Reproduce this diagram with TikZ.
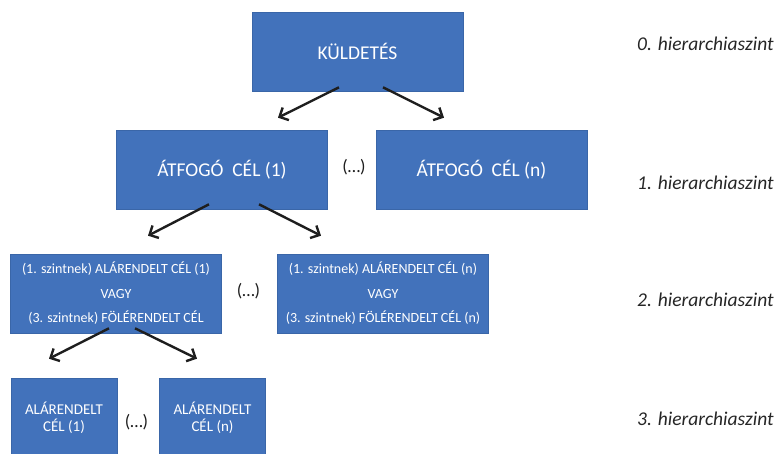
\documentclass[tikz,border=0pt]{standalone}
\usepackage{fontspec}
\setmainfont{Carlito}
\usetikzlibrary{arrows.meta}
\definecolor{boxblue}{RGB}{66,114,187}
\definecolor{boxedge}{RGB}{58,102,168}
\definecolor{inkdark}{RGB}{30,30,30}
\definecolor{labelgray}{RGB}{38,38,38}
\begin{document}
\begin{tikzpicture}[x=1pt,y=-1pt,
  goalbox/.style={fill=boxblue,draw=boxedge,line width=0.6pt,text=white,
    minimum width=211pt,minimum height=79pt,inner sep=0pt,align=center},
  bigtext/.style={font=\fontsize{19.5}{23}\selectfont},
  midtext/.style={font=\fontsize{14}{24.5}\selectfont},
  smallbox/.style={fill=boxblue,draw=boxedge,line width=0.6pt,text=white,
    minimum width=106pt,minimum height=79pt,inner sep=0pt,align=center,
    font=\fontsize{15}{17}\selectfont},
  dots/.style={text=inkdark,font=\fontsize{18}{20}\selectfont,inner sep=0pt},
  levellabel/.style={anchor=west,text=labelgray,inner sep=0pt,
    font=\fontsize{19.5}{22}\selectfont\itshape},
  arr/.style={draw=inkdark,line width=2.4pt,
    -{Straight Barb[length=7pt,width=14pt,line width=2.4pt]}}]

\useasboundingbox (0,0) rectangle (777,454);
\clip (0,0) rectangle (777,454);

% level 0
\node[goalbox,bigtext] (k) at (357.5,51.5) {KÜLDETÉS};

% level 1
\node[goalbox,bigtext] (a1) at (222,169.5) {ÁTFOGÓ\hspace{0.45em}CÉL (1)};
\node[goalbox,bigtext] (an) at (481.5,169.5) {ÁTFOGÓ\hspace{0.45em}CÉL (n)};
\node[dots] (d1) at (354,167) {(…)};

% level 2
\node[goalbox,midtext] (b1) at (116,293.5)
  {(1. szintnek) ALÁRENDELT CÉL (1)\\VAGY\\(3. szintnek) FÖLÉRENDELT CÉL};
\node[goalbox,midtext] (bn) at (383,293.5)
  {(1. szintnek) ALÁRENDELT CÉL (n)\\VAGY\\(3. szintnek) FÖLÉRENDELT CÉL (n)};
\node[dots] (d2) at (248.5,291) {(…)};

% level 3
\node[smallbox] (c1) at (64,417.5) {ALÁRENDELT\\CÉL (1)};
\node[smallbox] (cn) at (212.5,417.5) {ALÁRENDELT\\CÉL (n)};
\node[dots] (d3) at (136.5,422) {(…)};

% connectors
\draw[arr] ([shift={(-18.5,-4)}]k.south) -- ([shift={(56,-12)}]a1.north);
\draw[arr] ([shift={(25.5,-4)}]k.south) -- ([shift={(-37.5,-12)}]an.north);
\draw[arr] ([shift={(-13,-5)}]a1.south) -- ([shift={(32,-18)}]b1.north);
\draw[arr] ([shift={(37,-5)}]a1.south) -- ([shift={(-62,-18)}]bn.north);
\draw[arr] ([shift={(-7,-5)}]b1.south) -- ([shift={(-15,-19)}]c1.north);
\draw[arr] ([shift={(19,-5)}]b1.south) -- ([shift={(-15.5,-19)}]cn.north);

% hierarchy levels
\node[levellabel] (l0) at (637,44) {0. hierarchiaszint};
\node[levellabel] (l1) at (637,183) {1. hierarchiaszint};
\node[levellabel] (l2) at (637,300) {2. hierarchiaszint};
\node[levellabel] (l3) at (637,419) {3. hierarchiaszint};
\end{tikzpicture}
\end{document}
